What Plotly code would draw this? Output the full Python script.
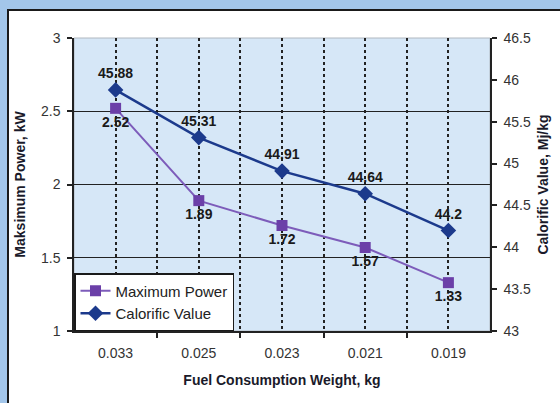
import plotly.graph_objects as go

categories = ["0.033", "0.025", "0.023", "0.021", "0.019"]
max_power = [2.52, 1.89, 1.72, 1.57, 1.33]
calorific = [45.88, 45.31, 44.91, 44.64, 44.2]
power_labels = ["2.52", "1.89", "1.72", "1.57", "1.33"]
calorific_labels = ["45.88", "45.31", "44.91", "44.64", "44.2"]

xpos = list(range(len(categories)))

W, H = 560, 403
L, R, T, B = 74, 70, 38, 72
pw, ph = W - L - R, H - T - B

def px(x):
    return (x - L) / pw

def py(y):
    return (H - B - y) / ph

font = "Liberation Sans, Arial, sans-serif"
OUTER = "#a3c6ea"

fig = go.Figure()
fig.add_trace(go.Scatter(
    x=xpos, y=max_power, name="Maximum Power", mode="lines+markers+text",
    line=dict(color="#7d5cba", width=2),
    marker=dict(symbol="square", size=11, color="#6b3fa8"),
    text=power_labels, textposition="bottom center",
    textfont=dict(family=font, size=14, color="#1a1a1a", weight="bold"),
    yaxis="y", cliponaxis=False,
))
fig.add_trace(go.Scatter(
    x=xpos, y=calorific, name="Calorific Value", mode="lines+markers+text",
    line=dict(color="#1c3a8c", width=2.5),
    marker=dict(symbol="diamond", size=12, color="#1c3a8c"),
    text=calorific_labels, textposition="top center",
    textfont=dict(family=font, size=14, color="#1a1a1a", weight="bold"),
    yaxis="y2", cliponaxis=False,
))

shapes = [
    dict(type="rect", xref="paper", yref="paper",
         x0=px(8), x1=px(W + 10), y0=py(H + 10), y1=py(10),
         fillcolor="white", line=dict(color="#1a1a1a", width=2), layer="below"),
    dict(type="rect", xref="paper", yref="paper",
         x0=0, x1=1, y0=0, y1=1,
         fillcolor="#d6e7f7", line=dict(color="#b0b8c0", width=1), layer="below"),
]

grid_dash = "3px,3px"

fig.update_layout(
    width=W, height=H,
    margin=dict(l=L, r=R, t=T, b=B),
    paper_bgcolor=OUTER,
    plot_bgcolor="rgba(0,0,0,0)",
    shapes=shapes,
    font=dict(family=font, size=14, color="#222"),
    showlegend=True,
    legend=dict(
        x=0, y=0, xanchor="left", yanchor="bottom",
        bgcolor="white", bordercolor="#1a1a1a", borderwidth=1.5,
        font=dict(family=font, size=15, color="#222"),
        tracegroupgap=0, itemwidth=30,
    ),
    xaxis=dict(
        range=[-0.5, len(categories) - 0.5],
        tickvals=xpos, ticktext=categories,
        showgrid=True, gridcolor="#222", griddash=grid_dash, gridwidth=2,
        ticks="", showline=True, linecolor="#222", linewidth=1.5,
        tickfont=dict(size=14, color="#333"), ticklabelstandoff=8,
        minor=dict(tickvals=[i + 0.5 for i in xpos[:-1]], showgrid=True,
                   gridcolor="#222", griddash=grid_dash, gridwidth=2,
                   ticks="outside", ticklen=5, tickcolor="#222", tickwidth=1.5),
        title=dict(text="<b>Fuel Consumption Weight, kg</b>", font=dict(size=14, color="#1a1a2a"), standoff=16),
        zeroline=False,
    ),
    yaxis=dict(
        range=[1, 3], tickvals=[1, 1.5, 2, 2.5, 3],
        showgrid=False, showline=True, linecolor="#222", linewidth=1.5,
        ticks="outside", ticklen=5, tickcolor="#222", tickwidth=1.5,
        tickfont=dict(size=14, color="#333"), ticklabelstandoff=4,
        minor=dict(tickvals=[1.5, 2, 2.5], showgrid=True, gridcolor="#222", gridwidth=1.2, ticks=""),
        title=dict(text="<b>Maksimum Power, kW</b>", font=dict(size=14, color="#1a1a2a"), standoff=12),
        zeroline=False,
    ),
    yaxis2=dict(
        range=[43, 46.5], tickvals=[43, 43.5, 44, 44.5, 45, 45.5, 46, 46.5],
        overlaying="y", side="right", showgrid=False,
        showline=True, linecolor="#222", linewidth=1.5,
        ticks="outside", ticklen=5, tickcolor="#222", tickwidth=1.5,
        tickfont=dict(size=14, color="#333"), ticklabelstandoff=4,
        title=dict(text="<b>Calorific Value, Mj/kg</b>", font=dict(size=14, color="#1a1a2a"), standoff=8),
        zeroline=False,
    ),
)

post = ("document.body.style.margin='0';"
        "document.body.style.background='%s';"
        "document.body.style.overflow='hidden';" % OUTER)
fig.write_html("out.html", post_script=post, config={"displayModeBar": False})
